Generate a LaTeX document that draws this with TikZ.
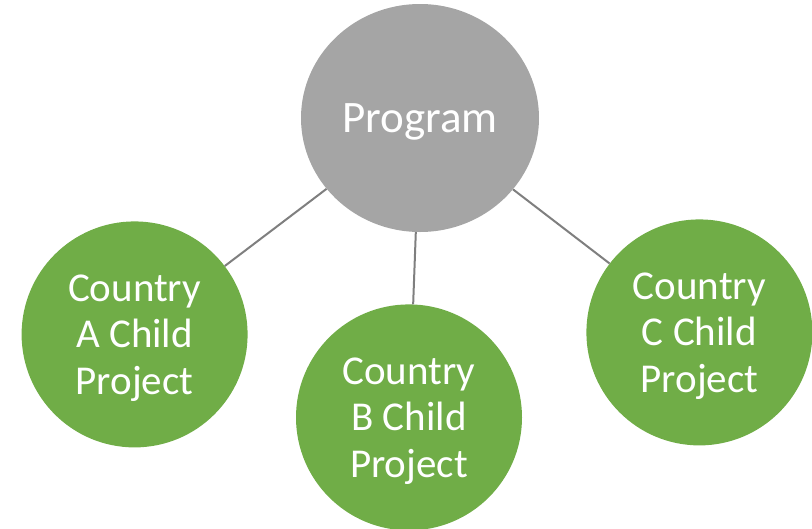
\documentclass[tikz,border=0pt]{standalone}
\usepackage{fontspec}
\setmainfont{Carlito}
\usetikzlibrary{positioning,shapes.geometric}
\definecolor{progGray}{HTML}{A5A5A5}
\definecolor{kidGreen}{HTML}{70AD47}
\definecolor{linkGray}{HTML}{7F7F7F}
\begin{document}
\begin{tikzpicture}[x=1pt,y=-1pt,
    kid/.style={circle, fill=kidGreen, text=white, minimum size=226pt, inner sep=0pt, text depth=0pt, align=center, font=\fontsize{41}{46.5}\selectfont},
    link/.style={draw=linkGray, line width=2pt}]
          \useasboundingbox (0,0) rectangle (812,528);
          \node[ellipse, fill=progGray, text=white, minimum width=238pt, minimum height=228pt, inner sep=0pt, text depth=0pt, font=\fontsize{45}{50}\selectfont](prog) at (420,118){Program};
          \node[kid, below=72pt of prog, xshift=-11pt](kidB){Country\\B Child\\Project};
          \node[kid, left=48pt of kidB, yshift=83pt](kidA){Country\\A Child\\Project};
          \node[kid, right=64pt of kidB, yshift=85pt](kidC){Country\\C Child\\Project};
          \path[link](prog) edge (kidA);
          \path[link](prog) edge (kidB);
          \path[link](prog) edge (kidC);
        \end{tikzpicture}
\end{document}
